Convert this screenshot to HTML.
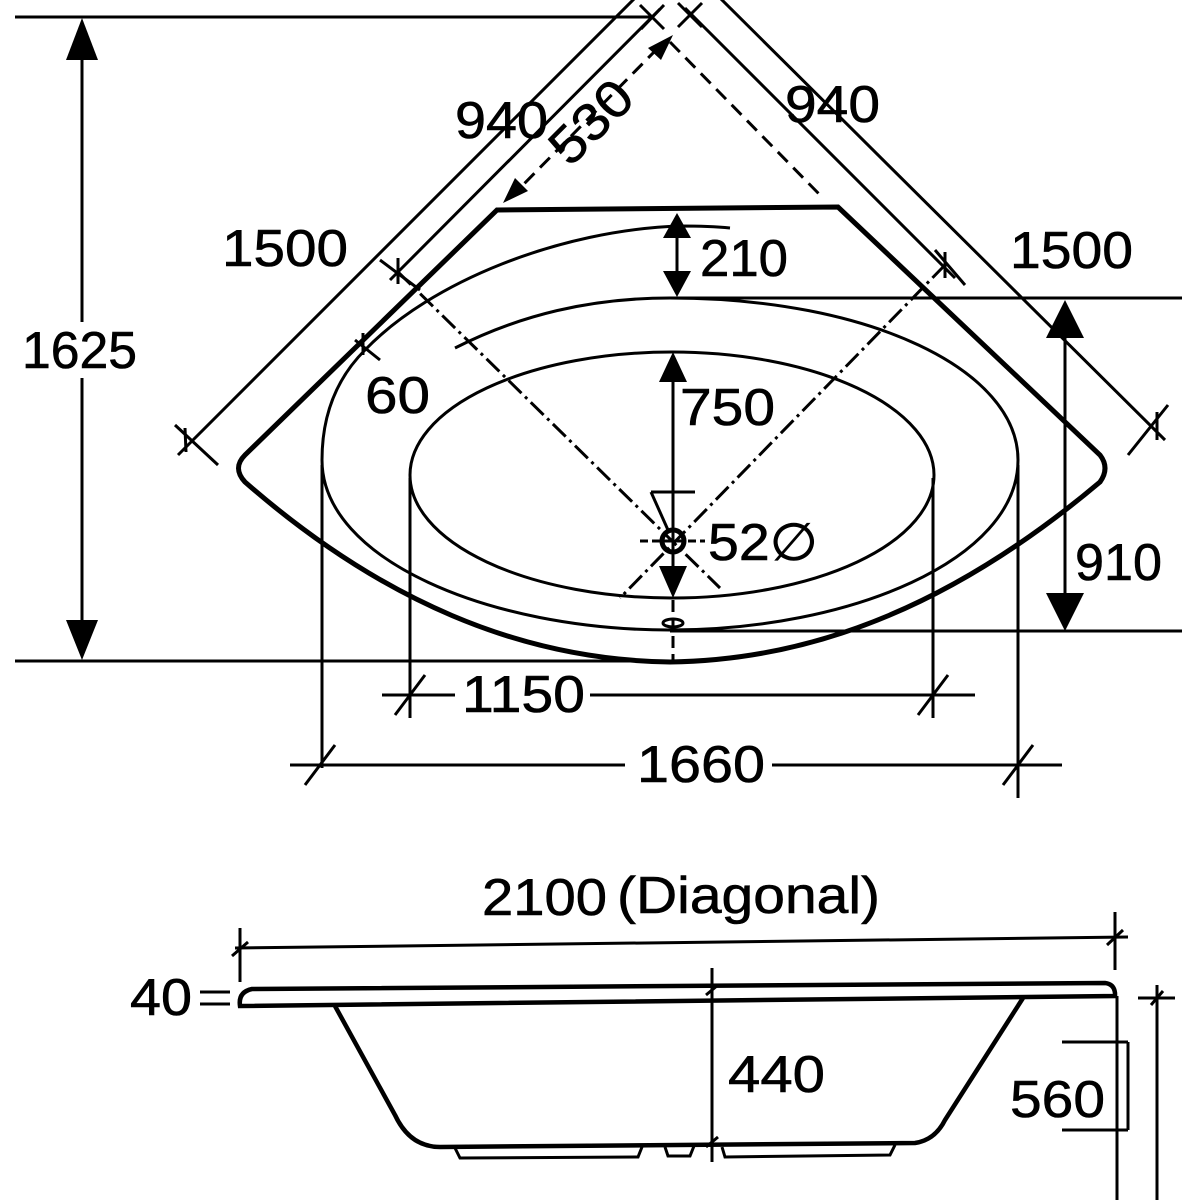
<!DOCTYPE html>
<html><head><meta charset="utf-8"><style>
html,body{margin:0;padding:0;background:#fff;}
svg{display:block;}
text{font-family:"Liberation Sans",sans-serif;fill:#000;}
</style></head><body>
<svg width="1200" height="1200" viewBox="0 0 1200 1200" xmlns="http://www.w3.org/2000/svg">
<g fill="none" stroke="#000" stroke-width="3">
<line x1="15" y1="17" x2="650" y2="17"/>
<line x1="15" y1="661" x2="670" y2="661"/>
<line x1="670" y1="298" x2="1182" y2="298"/>
<line x1="670" y1="631" x2="1182" y2="631"/>
<line x1="82" y1="40" x2="82" y2="650"/>
<line x1="1065" y1="320" x2="1065" y2="620"/>
<line x1="677" y1="225" x2="677" y2="290"/>
<line x1="673" y1="365" x2="673" y2="590"/>
<line x1="673" y1="600" x2="673" y2="660" stroke-dasharray="12,6"/>
<line x1="645" y1="-12" x2="178" y2="455"/>
<line x1="660" y1="9" x2="390" y2="280"/>
<line x1="717" y1="-5" x2="1165" y2="440"/>
<line x1="685" y1="8" x2="955" y2="278"/>
<line x1="670" y1="42" x2="822" y2="197" stroke-dasharray="14,8"/>
<line x1="658" y1="48" x2="512" y2="196" stroke-dasharray="14,8"/>
<line x1="640" y1="5" x2="664" y2="29"/><line x1="641" y1="29" x2="664" y2="5"/>
<line x1="678" y1="3" x2="702" y2="27"/><line x1="678" y1="27" x2="702" y2="3"/>
<line x1="175" y1="425" x2="218" y2="465"/><line x1="185" y1="428" x2="186" y2="452"/>
<line x1="380" y1="260" x2="420" y2="290"/><line x1="398" y1="258" x2="398" y2="284"/>
<line x1="935" y1="250" x2="965" y2="285"/><line x1="945" y1="252" x2="945" y2="278"/>
<line x1="1128" y1="455" x2="1168" y2="405"/><line x1="1157" y1="412" x2="1157" y2="440"/>
<line x1="355" y1="340" x2="380" y2="360"/><line x1="363" y1="333" x2="363" y2="355"/>
<line x1="398" y1="272" x2="720" y2="588" stroke-dasharray="18,5,3,5"/>
<line x1="945" y1="265" x2="620" y2="598" stroke-dasharray="18,5,3,5"/>
<line x1="640" y1="541" x2="705" y2="541" stroke-dasharray="8,4"/>
<path d="M455,348 C520,315 590,298 670,298 C870,298 1018,370 1018,460 C1018,560 850,630 670,630 C490,630 322,560 322,460 C322,410 340,375 365,350 C430,282 560,230 680,226 C700,226 720,227 730,228"/>
<ellipse cx="672" cy="475" rx="262" ry="123"/>
<line x1="322" y1="465" x2="322" y2="768"/>
<line x1="1018" y1="465" x2="1018" y2="798"/>
<line x1="410" y1="478" x2="410" y2="718"/>
<line x1="933" y1="478" x2="933" y2="718"/>
<line x1="382" y1="695" x2="455" y2="695"/><line x1="590" y1="695" x2="975" y2="695"/>
<line x1="290" y1="765" x2="625" y2="765"/><line x1="772" y1="765" x2="1062" y2="765"/>
<line x1="395" y1="715" x2="425" y2="675"/><line x1="918" y1="715" x2="948" y2="675"/>
<line x1="305" y1="785" x2="335" y2="745"/><line x1="1003" y1="785" x2="1033" y2="745"/>
<circle cx="673" cy="541" r="11" stroke-width="5"/>
<line x1="651" y1="492" x2="695" y2="492"/>
<line x1="651" y1="492" x2="668" y2="530"/>
<ellipse cx="673" cy="623" rx="10" ry="4"/>
<path stroke-width="5" d="M497,210 L838,207 L1100,455 Q1110,468 1100,482 C960,600 820,660 670,662 C520,660 380,600 245,482 Q232,468 245,455 Z"/>
<line x1="235" y1="948" x2="1128" y2="937"/>
<line x1="240" y1="928" x2="240" y2="982"/><line x1="1115" y1="912" x2="1115" y2="970"/>
<line x1="232" y1="956" x2="248" y2="942"/><line x1="1107" y1="945" x2="1123" y2="930"/>
<path stroke-width="4.5" d="M252,989 L1105,983 Q1114,984 1115,993 L1115,996 L240,1006 Q238,992 252,989 Z"/>
<path stroke-width="4.5" d="M335,1006 L395,1115 Q410,1147 440,1147 L915,1143 Q935,1140 945,1120 L1023,998"/>
<path stroke-width="3" d="M455,1148 L460,1158 L638,1157 L642,1147 M665,1147 L668,1156 L690,1156 L694,1146 M722,1147 L725,1157 L890,1155 L895,1145"/>
<line x1="712" y1="968" x2="712" y2="1162"/>
<line x1="706" y1="995" x2="718" y2="985"/><line x1="706" y1="1147" x2="718" y2="1137"/>
<line x1="1117" y1="996" x2="1117" y2="1200"/>
<line x1="1062" y1="1042" x2="1128" y2="1042"/><line x1="1062" y1="1130" x2="1128" y2="1130"/>
<line x1="1128" y1="1042" x2="1128" y2="1130"/>
<line x1="1157" y1="985" x2="1157" y2="1200"/>
<line x1="1138" y1="998" x2="1175" y2="998"/><line x1="1151" y1="1005" x2="1163" y2="991"/>
<line x1="200" y1="992" x2="230" y2="992"/><line x1="200" y1="1004" x2="230" y2="1004"/>
</g>
<g fill="#000">
<polygon points="82,18 66,60 98,60"/>
<polygon points="82,660 66,620 98,620"/>
<polygon points="1065,300 1046,338 1084,338"/>
<polygon points="1065,631 1046,593 1084,593"/>
<polygon points="677,213 663,238 691,238"/>
<polygon points="677,297 663,271 691,271"/>
<polygon points="673,352 659,382 687,382"/>
<polygon points="673,598 659,566 687,566"/>
<polygon points="673,35 648,48 661,60"/>
<polygon points="503,203 515,178 528,191"/>
</g>
<rect x="20" y="322" width="120" height="56" fill="#fff"/>
<g font-size="52" stroke="#000" stroke-width="0.6">
<text x="455" y="138" textLength="93" lengthAdjust="spacingAndGlyphs">940</text>
<text x="785" y="122" textLength="95" lengthAdjust="spacingAndGlyphs">940</text>
<text transform="translate(570,168) rotate(-45)" textLength="95" lengthAdjust="spacingAndGlyphs">530</text>
<text x="222" y="266" textLength="126" lengthAdjust="spacingAndGlyphs">1500</text>
<text x="1010" y="268" textLength="123" lengthAdjust="spacingAndGlyphs">1500</text>
<text x="22" y="368" textLength="115" lengthAdjust="spacingAndGlyphs">1625</text>
<text x="365" y="413" textLength="65" lengthAdjust="spacingAndGlyphs">60</text>
<text x="700" y="276" textLength="88" lengthAdjust="spacingAndGlyphs">210</text>
<text x="680" y="425" textLength="95" lengthAdjust="spacingAndGlyphs">750</text>
<text x="708" y="560" textLength="110" lengthAdjust="spacingAndGlyphs">52∅</text>
<text x="1075" y="580" textLength="87" lengthAdjust="spacingAndGlyphs">910</text>
<text x="462" y="712" textLength="123" lengthAdjust="spacingAndGlyphs">1150</text>
<text x="637" y="782" textLength="128" lengthAdjust="spacingAndGlyphs">1660</text>
<text x="482" y="915" textLength="125" lengthAdjust="spacingAndGlyphs">2100</text>
<text x="617" y="913" textLength="263" lengthAdjust="spacingAndGlyphs">(Diagonal)</text>
<text x="130" y="1015" textLength="62" lengthAdjust="spacingAndGlyphs">40</text>
<text x="728" y="1092" textLength="97" lengthAdjust="spacingAndGlyphs">440</text>
<text x="1010" y="1117" textLength="95" lengthAdjust="spacingAndGlyphs">560</text>
</g>
</svg>
</body></html>
